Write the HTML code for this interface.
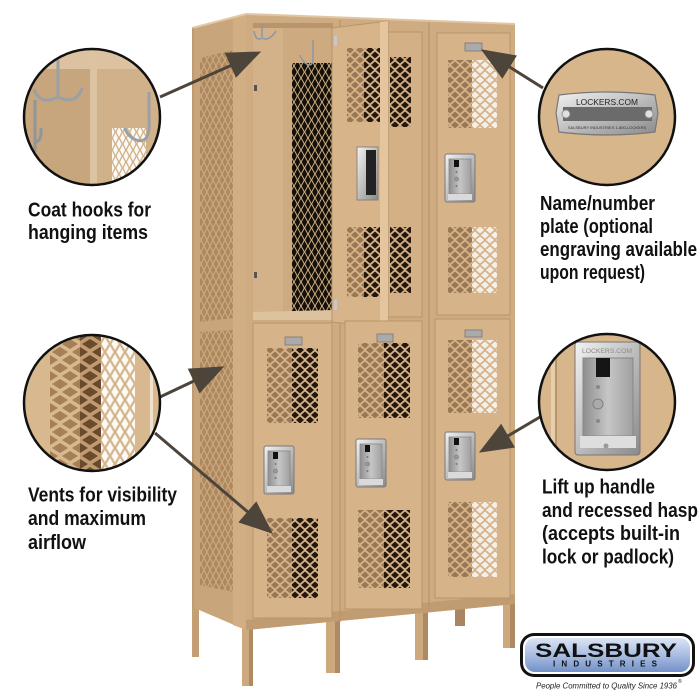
<!DOCTYPE html>
<html><head><meta charset="utf-8">
<style>
html,body{margin:0;padding:0;background:#fff;}
svg{display:block;}
text{font-family:"Liberation Sans",sans-serif;}
</style></head><body>
<svg width="700" height="700" viewBox="0 0 700 700" xmlns="http://www.w3.org/2000/svg">
<defs>
 <linearGradient id="silver" x1="0" y1="0" x2="1" y2="1">
  <stop offset="0" stop-color="#f2f2f2"/><stop offset="0.5" stop-color="#bdbdbd"/><stop offset="1" stop-color="#8a8a8a"/>
 </linearGradient>
 <linearGradient id="recess" x1="0" y1="0" x2="1" y2="0">
  <stop offset="0" stop-color="#8e8e8e"/><stop offset="0.5" stop-color="#c6c6c6"/><stop offset="1" stop-color="#a0a0a0"/>
 </linearGradient>
 <linearGradient id="blue" x1="0" y1="0" x2="0" y2="1">
  <stop offset="0" stop-color="#dbe4f4"/><stop offset="0.5" stop-color="#a9bde2"/><stop offset="1" stop-color="#7391c8"/>
 </linearGradient>
 <pattern id="vb" width="10" height="10" patternUnits="userSpaceOnUse">
  <polygon points="1,5 5,1.5 9,5 5,8.5" fill="#9a7853"/>
  <polygon points="-4,0 0,-3.5 4,0 0,3.5" fill="#9a7853"/>
  <polygon points="6,0 10,-3.5 14,0 10,3.5" fill="#9a7853"/>
  <polygon points="-4,10 0,6.5 4,10 0,13.5" fill="#9a7853"/>
  <polygon points="6,10 10,6.5 14,10 10,13.5" fill="#9a7853"/>
 </pattern>
 <pattern id="vk" width="10" height="10" patternUnits="userSpaceOnUse">
  <polygon points="1,5 5,1.5 9,5 5,8.5" fill="#24180d"/>
  <polygon points="-4,0 0,-3.5 4,0 0,3.5" fill="#24180d"/>
  <polygon points="6,0 10,-3.5 14,0 10,3.5" fill="#24180d"/>
  <polygon points="-4,10 0,6.5 4,10 0,13.5" fill="#24180d"/>
  <polygon points="6,10 10,6.5 14,10 10,13.5" fill="#24180d"/>
 </pattern>
 <pattern id="vw" width="10" height="10" patternUnits="userSpaceOnUse">
  <polygon points="1,5 5,1.5 9,5 5,8.5" fill="#f3f0ea"/>
  <polygon points="-4,0 0,-3.5 4,0 0,3.5" fill="#f3f0ea"/>
  <polygon points="6,0 10,-3.5 14,0 10,3.5" fill="#f3f0ea"/>
  <polygon points="-4,10 0,6.5 4,10 0,13.5" fill="#f3f0ea"/>
  <polygon points="6,10 10,6.5 14,10 10,13.5" fill="#f3f0ea"/>
 </pattern>
 <pattern id="sp" width="6" height="12" patternUnits="userSpaceOnUse">
  <polygon points="0.8,6 3,1.5 5.2,6 3,10.5" fill="#ad875d"/>
  <polygon points="-2.2,0 0,-4.5 2.2,0 0,4.5" fill="#ad875d"/>
  <polygon points="3.8,0 6,-4.5 8.2,0 6,4.5" fill="#ad875d"/>
  <polygon points="-2.2,12 0,7.5 2.2,12 0,16.5" fill="#ad875d"/>
  <polygon points="3.8,12 6,7.5 8.2,12 6,16.5" fill="#ad875d"/>
 </pattern>
 <pattern id="im" width="7" height="12" patternUnits="userSpaceOnUse">
  <polygon points="0.7,6 3.5,0.8 6.3,6 3.5,11.2" fill="#141009"/>
  <polygon points="-2.8,0 0,-5.2 2.8,0 0,5.2" fill="#141009"/>
  <polygon points="4.2,0 7,-5.2 9.8,0 7,5.2" fill="#141009"/>
  <polygon points="-2.8,12 0,6.8 2.8,12 0,17.2" fill="#141009"/>
  <polygon points="4.2,12 7,6.8 9.8,12 7,17.2" fill="#141009"/>
 </pattern>
 <pattern id="cmb" width="20" height="16" patternUnits="userSpaceOnUse">
  <polygon points="2,8 10,3 18,8 10,13" fill="#a57f55"/>
  <polygon points="-8,0 0,-5 8,0 0,5" fill="#a57f55"/>
  <polygon points="12,0 20,-5 28,0 20,5" fill="#a57f55"/>
  <polygon points="-8,16 0,11 8,16 0,21" fill="#a57f55"/>
  <polygon points="12,16 20,11 28,16 20,21" fill="#a57f55"/>
 </pattern>
 <pattern id="cmd" width="20" height="16" patternUnits="userSpaceOnUse">
  <polygon points="2,8 10,3 18,8 10,13" fill="#6a4a2c"/>
  <polygon points="-8,0 0,-5 8,0 0,5" fill="#6a4a2c"/>
  <polygon points="12,0 20,-5 28,0 20,5" fill="#6a4a2c"/>
  <polygon points="-8,16 0,11 8,16 0,21" fill="#6a4a2c"/>
  <polygon points="12,16 20,11 28,16 20,21" fill="#6a4a2c"/>
 </pattern>
 <pattern id="cmw" width="10" height="16" patternUnits="userSpaceOnUse">
  <polygon points="1.5,8 5,2 8.5,8 5,14" fill="#fbfaf7"/>
  <polygon points="-3.5,0 0,-6 3.5,0 0,6" fill="#fbfaf7"/>
  <polygon points="6.5,0 10,-6 13.5,0 10,6" fill="#fbfaf7"/>
  <polygon points="-3.5,16 0,10 3.5,16 0,22" fill="#fbfaf7"/>
  <polygon points="6.5,16 10,10 13.5,16 10,22" fill="#fbfaf7"/>
 </pattern>
 <pattern id="tw" width="7" height="12" patternUnits="userSpaceOnUse">
  <polygon points="1,6 3.5,1 6,6 3.5,11" fill="#fbfaf7"/>
  <polygon points="-2.5,0 0,-5 2.5,0 0,5" fill="#fbfaf7"/>
  <polygon points="4.5,0 7,-5 9.5,0 7,5" fill="#fbfaf7"/>
  <polygon points="-2.5,12 0,7 2.5,12 0,17" fill="#fbfaf7"/>
  <polygon points="4.5,12 7,7 9.5,12 7,17" fill="#fbfaf7"/>
 </pattern>
 <clipPath id="c1"><circle cx="92" cy="117" r="68"/></clipPath>
 <clipPath id="c2"><circle cx="92" cy="403" r="68"/></clipPath>
 <clipPath id="c3"><circle cx="607" cy="117" r="68"/></clipPath>
 <clipPath id="c4"><circle cx="607" cy="402" r="68"/></clipPath>
 <g id="handle">
  <rect x="0" y="0" width="30" height="48" rx="2" fill="url(#silver)" stroke="#7a7a7a" stroke-width="1"/>
  <rect x="4" y="5" width="22" height="35" fill="url(#recess)" stroke="#8a8a8a" stroke-width="0.8"/>
  <rect x="9" y="6" width="5" height="7" fill="#111"/>
  <circle cx="11.5" cy="18" r="1" fill="#777"/>
  <circle cx="11.5" cy="25" r="2" fill="#999" stroke="#777" stroke-width="0.6"/>
  <circle cx="11.5" cy="32" r="1" fill="#777"/>
  <rect x="3" y="40" width="24" height="6" fill="#dadada"/>
 </g>
</defs>

<rect width="700" height="700" fill="#fff"/>

<!-- legs -->
<rect x="192" y="600" width="7" height="57" fill="#c49f74"/>
<rect x="455" y="598" width="10" height="28" fill="#a9865f"/>
<rect x="242" y="620" width="11" height="66" fill="#cfa97e"/><rect x="249" y="620" width="4" height="66" fill="#ae8a62"/>
<rect x="326" y="612" width="14" height="61" fill="#cfa97e"/><rect x="335" y="612" width="5" height="61" fill="#ae8a62"/>
<rect x="415" y="602" width="13" height="58" fill="#cfa97e"/><rect x="423" y="602" width="5" height="58" fill="#ae8a62"/>
<rect x="503" y="592" width="12" height="56" fill="#cfa97e"/><rect x="510" y="592" width="5" height="56" fill="#ae8a62"/>

<!-- side panel -->
<polygon points="192,28 246,14 246,630 192,607" fill="#c9a57b"/>
<polygon points="200,58 233,50 233,318 200,322" fill="url(#sp)"/>
<polygon points="200,332 233,330 233,592 200,585" fill="url(#sp)"/>
<polygon points="233,17 246,14 246,630 233,625" fill="#d2ae84"/>
<line x1="192" y1="28" x2="246" y2="14" stroke="#e2caa6" stroke-width="2"/>
<line x1="193" y1="28" x2="193" y2="607" stroke="#b6916a" stroke-width="1"/>

<!-- front face -->
<polygon points="246,14 515,24 515,604 246,630" fill="#cfab81"/>
<line x1="246" y1="14" x2="515" y2="24" stroke="#e0c6a2" stroke-width="2"/>
<polygon points="246,620 515,594 515,604 246,630" fill="#c19c72"/>
<line x1="340" y1="20" x2="340" y2="622" stroke="#b8946b" stroke-width="1.2"/>
<line x1="429" y1="23" x2="429" y2="610" stroke="#b8946b" stroke-width="1.2"/>

<!-- col1 interior -->
<rect x="253" y="23" width="80" height="297" fill="#c9a77d"/>
<rect x="253" y="23" width="30" height="292" fill="#d3b28a"/>
<rect x="283" y="23" width="50" height="290" fill="#cdaa80"/>
<rect x="253" y="23" width="80" height="5" fill="#b8956c"/>
<rect x="292" y="63" width="40" height="250" fill="#cfac82"/>
<rect x="292" y="63" width="40" height="250" fill="url(#im)"/>
<polygon points="253,312 333,310 333,320 253,320" fill="#dcc29d"/>
<rect x="254" y="85" width="3" height="6" fill="#555"/>
<rect x="254" y="272" width="3" height="6" fill="#555"/>
<path d="M262,25 L262,37 M254,31 Q256,42 262,38 Q269,42 276,31" stroke="#8b97a3" stroke-width="1.5" fill="none"/>
<path d="M313,40 L313,60 Q312,68 305,63 Q301,59 300,55" stroke="#8b97a3" stroke-width="1.5" fill="none"/>

<!-- col2 upper door (partly visible) -->
<rect x="345" y="32" width="77" height="285" fill="#d4b087" stroke="#b8946b" stroke-width="1"/>
<rect x="390" y="57" width="21" height="70" fill="url(#vk)"/>
<rect x="390" y="227" width="21" height="66" fill="url(#vk)"/>

<!-- open door col1 -->
<polygon points="332,28 388,21 388,328 332,322" fill="#d8b48a" stroke="#b8946b" stroke-width="1"/>
<polygon points="380,22 388,21 388,328 380,327" fill="#e4c59e"/>
<rect x="347" y="48" width="17" height="74" fill="url(#vb)"/>
<rect x="364" y="48" width="16" height="74" fill="url(#vk)"/>
<rect x="347" y="227" width="17" height="70" fill="url(#vb)"/>
<rect x="364" y="227" width="16" height="70" fill="url(#vk)"/>
<rect x="357" y="147" width="21" height="53" fill="url(#silver)" stroke="#777" stroke-width="0.8"/>
<rect x="366" y="150" width="10" height="45" fill="#222"/>
<rect x="334" y="36" width="3" height="10" fill="#c8c8c8"/>
<rect x="334" y="300" width="3" height="10" fill="#c8c8c8"/>

<!-- col3 upper door -->
<rect x="437" y="33" width="73" height="282" fill="#d7b38a" stroke="#b8946b" stroke-width="1"/>
<rect x="448" y="60" width="24" height="68" fill="url(#vb)"/>
<rect x="472" y="60" width="25" height="68" fill="url(#vw)"/>
<rect x="448" y="227" width="24" height="66" fill="url(#vb)"/>
<rect x="472" y="227" width="25" height="66" fill="url(#vw)"/>
<rect x="465" y="43" width="17" height="8" fill="#aaa" stroke="#777" stroke-width="0.8"/>
<use href="#handle" x="445" y="154"/>

<!-- lower doors -->
<rect x="253" y="323" width="79" height="295" fill="#d7b38a" stroke="#b8946b" stroke-width="1"/>
<rect x="267" y="348" width="25" height="75" fill="url(#vb)"/>
<rect x="292" y="348" width="26" height="75" fill="url(#vk)"/>
<rect x="267" y="518" width="25" height="80" fill="url(#vb)"/>
<rect x="292" y="518" width="26" height="80" fill="url(#vk)"/>
<rect x="285" y="337" width="17" height="8" fill="#aaa" stroke="#777" stroke-width="0.8"/>
<use href="#handle" x="264" y="446"/>

<rect x="345" y="321" width="77" height="288" fill="#d7b38a" stroke="#b8946b" stroke-width="1"/>
<rect x="358" y="343" width="26" height="75" fill="url(#vb)"/>
<rect x="384" y="343" width="26" height="75" fill="url(#vk)"/>
<rect x="358" y="510" width="26" height="78" fill="url(#vb)"/>
<rect x="384" y="510" width="26" height="78" fill="url(#vk)"/>
<rect x="377" y="334" width="16" height="8" fill="#aaa" stroke="#777" stroke-width="0.8"/>
<use href="#handle" x="356" y="439"/>

<rect x="435" y="319" width="75" height="279" fill="#d7b38a" stroke="#b8946b" stroke-width="1"/>
<rect x="448" y="340" width="24" height="73" fill="url(#vb)"/>
<rect x="472" y="340" width="25" height="73" fill="url(#vw)"/>
<rect x="448" y="502" width="24" height="75" fill="url(#vb)"/>
<rect x="472" y="502" width="25" height="75" fill="url(#vw)"/>
<rect x="465" y="330" width="17" height="7" fill="#aaa" stroke="#777" stroke-width="0.8"/>
<use href="#handle" x="445" y="432"/>

<!-- arrows -->
<g fill="#4d443a" stroke="#4d443a">
 <line x1="160" y1="97" x2="232" y2="65" stroke-width="3"/>
 <polygon points="260,52 236.1,76.9 225.5,53.2" stroke-width="1"/>
 <line x1="543" y1="88" x2="508" y2="66" stroke-width="3"/>
 <polygon points="482,50 516.1,55.9 502.3,77.9" stroke-width="1"/>
 <line x1="160" y1="397" x2="196" y2="380" stroke-width="3"/>
 <polygon points="223,367 199.7,392.5 188.5,369.1" stroke-width="1"/>
 <line x1="155" y1="433" x2="249" y2="513" stroke-width="3"/>
 <polygon points="272,533 239.2,522.1 256.2,502.3" stroke-width="1"/>
 <line x1="540" y1="417" x2="506" y2="437" stroke-width="3"/>
 <polygon points="480,452 514.2,447.1 501.1,424.7" stroke-width="1"/>
</g>

<!-- circle 1: hooks -->
<g clip-path="url(#c1)">
 <rect x="20" y="45" width="150" height="145" fill="#c8a67d"/>
 <rect x="96" y="45" width="70" height="145" fill="#d1b189"/>
 <rect x="20" y="45" width="150" height="24" fill="#dcc2a0"/>
 <rect x="90" y="45" width="7" height="145" fill="#dcc4a2"/>
 <rect x="112" y="128" width="34" height="55" fill="url(#tw)"/>
 <path d="M58,60 L58,96 M34,89 Q40,106 58,97 Q76,106 82,88" stroke="#9aa0a6" stroke-width="3" fill="none"/>
 <path d="M35,100 L35,152 M36,142 Q42,140 41,128" stroke="#8f969c" stroke-width="3" fill="none"/>
 <path d="M149,92 L149,118 Q151,145 136,140 Q127,136 125,128" stroke="#9aa0a6" stroke-width="3" fill="none"/>
</g>
<circle cx="92" cy="117" r="68" fill="none" stroke="#111" stroke-width="2.5"/>

<!-- circle 2: vents -->
<g clip-path="url(#c2)">
 <rect x="20" y="330" width="150" height="150" fill="#d8b88f"/>
 <rect x="50" y="335" width="32" height="140" fill="url(#cmb)"/>
 <rect x="80" y="335" width="22" height="140" fill="#c09b70"/>
 <rect x="80" y="335" width="22" height="140" fill="url(#cmd)"/>
 <rect x="101" y="335" width="34" height="140" fill="#d6b790"/>
 <rect x="101" y="335" width="34" height="140" fill="url(#cmw)"/>
 <rect x="150" y="335" width="3" height="140" fill="#f0e2cc"/>
</g>
<circle cx="92" cy="403" r="68" fill="none" stroke="#111" stroke-width="2.5"/>

<!-- circle 3: name plate -->
<g clip-path="url(#c3)">
 <rect x="535" y="45" width="145" height="145" fill="#d8b68c"/>
 <path d="M559,95 Q607,89 655,95 L658,113 L655,132 Q607,138 559,132 L556,113 Z" fill="url(#silver)" stroke="#777" stroke-width="1.2"/>
 <rect x="563" y="107" width="89" height="14" fill="#6b6b6b"/>
 <circle cx="566" cy="114" r="4" fill="#e0e0e0" stroke="#888" stroke-width="0.8"/>
 <circle cx="649" cy="114" r="4" fill="#e0e0e0" stroke="#888" stroke-width="0.8"/>
 <text x="607" y="105" font-size="8.5" text-anchor="middle" fill="#222" textLength="62" lengthAdjust="spacingAndGlyphs">LOCKERS.COM</text>
 <text x="607" y="129" font-size="4" text-anchor="middle" fill="#333">SALSBURY INDUSTRIES    1-800-LOCKERS</text>
</g>
<circle cx="607" cy="117" r="68" fill="none" stroke="#111" stroke-width="2.5"/>

<!-- circle 4: handle -->
<g clip-path="url(#c4)">
 <rect x="535" y="330" width="145" height="145" fill="#d8b68c"/>
 <rect x="551" y="330" width="4" height="145" fill="#e6cfab"/>
 <rect x="555" y="330" width="2" height="145" fill="#b8946b"/>
 <rect x="575" y="342" width="65" height="113" rx="3" fill="url(#silver)" stroke="#777" stroke-width="1"/>
 <rect x="583" y="358" width="50" height="78" fill="url(#recess)" stroke="#888" stroke-width="1"/>
 <rect x="596" y="358" width="14" height="19" fill="#151515"/>
 <circle cx="598" cy="387" r="2" fill="#888"/>
 <circle cx="598" cy="404" r="5" fill="#aaa" stroke="#808080" stroke-width="1"/>
 <circle cx="598" cy="421" r="2" fill="#888"/>
 <rect x="580" y="436" width="56" height="12" fill="#dedede"/>
 <circle cx="606" cy="446" r="2.5" fill="#999"/>
 <text x="607" y="353" font-size="6" text-anchor="middle" fill="#8a8a8a" textLength="50" lengthAdjust="spacingAndGlyphs">LOCKERS.COM</text>
</g>
<circle cx="607" cy="402" r="68" fill="none" stroke="#111" stroke-width="2.5"/>

<!-- labels -->
<g font-weight="bold" font-size="20" fill="#111">
 <text x="28" y="216.5" textLength="123" lengthAdjust="spacingAndGlyphs">Coat hooks for</text>
 <text x="28" y="239" textLength="120" lengthAdjust="spacingAndGlyphs">hanging items</text>
 <text x="28" y="501.5" textLength="149" lengthAdjust="spacingAndGlyphs">Vents for visibility</text>
 <text x="28" y="525" textLength="118" lengthAdjust="spacingAndGlyphs">and maximum</text>
 <text x="28" y="549" textLength="58" lengthAdjust="spacingAndGlyphs">airflow</text>
 <text x="540" y="210" textLength="115" lengthAdjust="spacingAndGlyphs">Name/number</text>
 <text x="540" y="233" textLength="113" lengthAdjust="spacingAndGlyphs">plate (optional</text>
 <text x="540" y="256" textLength="157" lengthAdjust="spacingAndGlyphs">engraving available</text>
 <text x="540" y="279" textLength="105" lengthAdjust="spacingAndGlyphs">upon request)</text>
 <text x="542" y="493.5" textLength="113" lengthAdjust="spacingAndGlyphs">Lift up handle</text>
 <text x="542" y="517" textLength="156" lengthAdjust="spacingAndGlyphs">and recessed hasp</text>
 <text x="542" y="540" textLength="138" lengthAdjust="spacingAndGlyphs">(accepts built-in</text>
 <text x="542" y="563.5" textLength="132" lengthAdjust="spacingAndGlyphs">lock or padlock)</text>
</g>

<!-- logo -->
<rect x="520" y="633" width="175" height="44" rx="14" fill="#111"/>
<rect x="523" y="636" width="169" height="38" rx="11" fill="#fff"/>
<rect x="525" y="638" width="165" height="34" rx="10" fill="url(#blue)"/>
<text x="535" y="657" font-size="19" font-weight="bold" fill="#111" textLength="142" lengthAdjust="spacingAndGlyphs">SALSBURY</text>
<text x="553" y="666.5" font-size="8" font-weight="bold" fill="#111" textLength="104" lengthAdjust="spacing">INDUSTRIES</text>
<text x="536" y="688.5" font-size="8.5" font-style="italic" fill="#222" textLength="141" lengthAdjust="spacingAndGlyphs">People Committed to Quality Since 1936</text>
<text x="678" y="683" font-size="5" fill="#222">®</text>
</svg>
</body></html>
